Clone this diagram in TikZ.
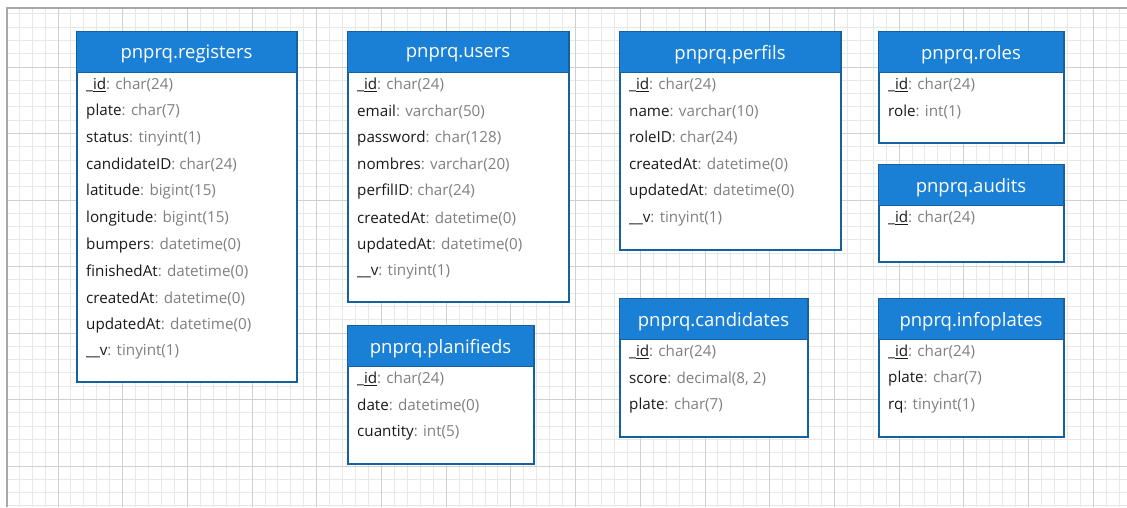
\documentclass[tikz,border=0pt]{standalone}
\usepackage{fontspec}
\setmainfont{Open Sans}
\definecolor{hdr}{HTML}{1A80D6}
\definecolor{bord}{HTML}{15609E}
\definecolor{tyc}{HTML}{808080}
\definecolor{keyc}{HTML}{1A1A1A}
\definecolor{gmin}{HTML}{E8E8E8}
\definecolor{gmaj}{HTML}{D0D0D0}
\definecolor{gbrd}{HTML}{A8A8A8}
\newcommand{\fld}[2]{\textcolor{keyc}{#1}\textcolor{tyc}{: #2}}
\newcommand{\pk}{\textcolor{keyc}{\_\underline{id}}\textcolor{tyc}{: char(24)}}
\newcommand{\erdtable}[7]{%
  \node[tbody, minimum width={#4-#2}, minimum height={#5-#3}] (#1) at (#2,#3) {};
  \node[thead, minimum width={#4-#2}] (#1-h) at (#2,#3) {#6};
  \foreach \t [count=\i] in {#7} {\node[fieldrow] (#1-\i) at ({#2+10},{#3+54+26.7*(\i-1)}) {\t};}
}
\begin{document}
\begin{tikzpicture}[x=1pt,y=-1pt,
  tbody/.style={draw=bord, line width=2pt, fill=white, anchor=north west, inner sep=0pt},
  thead/.style={draw=bord, line width=1pt, fill=hdr, anchor=north west, text=white,
    font=\fontsize{18.5}{22}\selectfont, inner sep=0pt, minimum height=41pt, text depth=0pt},
  fieldrow/.style={anchor=west, inner sep=0pt, font=\fontsize{15.2}{18}\selectfont},
  gridminor/.style={draw=gmin, line width=1pt},
  gridmajor/.style={draw=gmaj, line width=1pt}]
\useasboundingbox (0,0) rectangle (1127,507);
\fill[white] (0,0) rectangle (1127,507);
% grid
\foreach \k in {-3,...,82} {\draw[gridminor] ({58+12.94*\k},8) -- ({58+12.94*\k},507);}
\foreach \k in {-3,...,34} {\draw[gridminor] (7,{466-13.3*\k}) -- (1127,{466-13.3*\k});}
\foreach \k in {0,5,...,80} {\draw[gridmajor] ({58+12.94*\k},8) -- ({58+12.94*\k},507);}
\foreach \k in {0,5,...,30} {\draw[gridmajor] (7,{466-13.3*\k}) -- (1127,{466-13.3*\k});}
\draw[draw=gbrd, line width=2pt] (7,507) -- (7,8) -- (1127,8);
% tables
\erdtable{reg}{76}{31}{296}{381}{pnprq.registers}{{\pk},{\fld{plate}{char(7)}},{\fld{status}{tinyint(1)}},{\fld{candidateID}{char(24)}},{\fld{latitude}{bigint(15)}},{\fld{longitude}{bigint(15)}},{\fld{bumpers}{datetime(0)}},{\fld{finishedAt}{datetime(0)}},{\fld{createdAt}{datetime(0)}},{\fld{updatedAt}{datetime(0)}},{\fld{\_\_v}{tinyint(1)}}}
\erdtable{usr}{347}{31}{568}{301}{pnprq.users}{{\pk},{\fld{email}{varchar(50)}},{\fld{password}{char(128)}},{\fld{nombres}{varchar(20)}},{\fld{perfilID}{char(24)}},{\fld{createdAt}{datetime(0)}},{\fld{updatedAt}{datetime(0)}},{\fld{\_\_v}{tinyint(1)}}}
\erdtable{pla}{347}{325}{533}{463}{pnprq.planifieds}{{\pk},{\fld{date}{datetime(0)}},{\fld{cuantity}{int(5)}}}
\erdtable{per}{619}{31}{840}{249}{pnprq.perfils}{{\pk},{\fld{name}{varchar(10)}},{\fld{roleID}{char(24)}},{\fld{createdAt}{datetime(0)}},{\fld{updatedAt}{datetime(0)}},{\fld{\_\_v}{tinyint(1)}}}
\erdtable{rol}{878}{31}{1063}{142}{pnprq.roles}{{\pk},{\fld{role}{int(1)}}}
\erdtable{aud}{878}{164}{1063}{261}{pnprq.audits}{{\pk}}
\erdtable{can}{619}{298}{807}{436}{pnprq.candidates}{{\pk},{\fld{score}{decimal(8, 2)}},{\fld{plate}{char(7)}}}
\erdtable{inf}{878}{298}{1063}{436}{pnprq.infoplates}{{\pk},{\fld{plate}{char(7)}},{\fld{rq}{tinyint(1)}}}
\end{tikzpicture}
\end{document}
